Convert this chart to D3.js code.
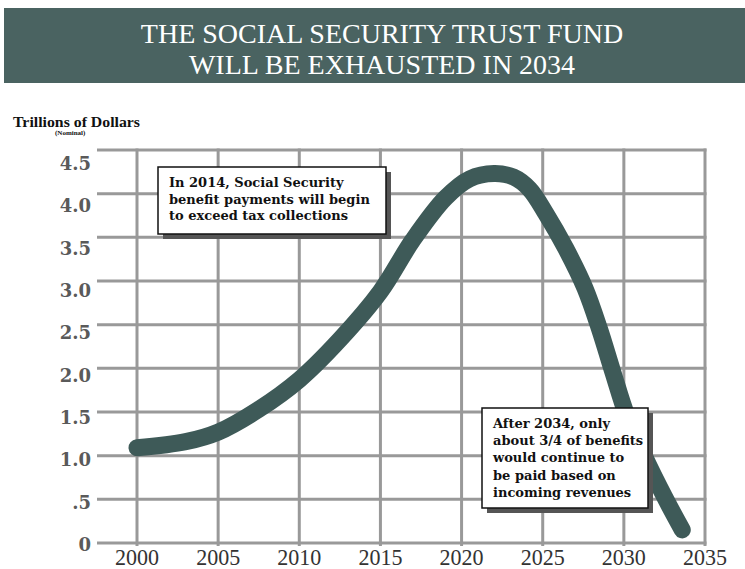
<!DOCTYPE html>
<html>
<head>
<meta charset="utf-8">
<script src="https://cdn.jsdelivr.net/npm/d3@7"></script>
<style>
  body { margin: 0; background: #fff; }
  svg { display: block; }
</style>
</head>
<body>
<svg id="chart" width="745" height="569"></svg>
<script>
// Data ---------------------------------------------------------------------------

var years = [2000, 2003, 2005, 2007.5, 2010, 2012.5, 2015, 2017, 2019, 2020.5, 2022, 2023.2, 2024.2, 2025.2, 2026.4, 2027.6, 2028.5, 2029.3, 2030.2, 2031.3, 2032.5, 2033.6];
var fund = [1.09, 1.16, 1.27, 1.53, 1.87, 2.33, 2.88, 3.47, 3.95, 4.17, 4.23, 4.19, 4.05, 3.77, 3.38, 2.92, 2.45, 1.97, 1.45, 0.98, 0.53, 0.15];

var xTicks = [2000, 2005, 2010, 2015, 2020, 2025, 2030, 2035];
var yTicks = [0, 0.5, 1.0, 1.5, 2.0, 2.5, 3.0, 3.5, 4.0, 4.5];
var yTickLabels = ["0", ".5", "1.0", "1.5", "2.0", "2.5", "3.0", "3.5", "4.0", "4.5"];

var titleLines = ["THE SOCIAL SECURITY TRUST FUND", "WILL BE EXHAUSTED IN 2034"];
var note1 = ["In 2014, Social Security", "benefit payments will begin", "to exceed tax collections"];
var note2 = ["After 2034, only", "about 3/4 of benefits", "would continue to", "be paid based on", "incoming revenues"];

// Setup --------------------------------------------------------------------------

var svg = d3.select("#chart");
var serif = "'Liberation Serif', 'Times New Roman', serif";
var slab = "'DejaVu Serif', serif";

var x = d3.scaleLinear().domain([2000, 2035]).range([137, 705]);
var y = d3.scaleLinear().domain([0, 4.5]).range([543, 150]);
// tick labels sit a little lower than their grid lines near the top
var yLab = d3.scaleLinear().domain([0, 4.5]).range([551, 170]);

// Title banner
svg.append("rect")
    .attr("x", 4).attr("y", 8)
    .attr("width", 741).attr("height", 75)
    .attr("fill", "#4a6361");

svg.selectAll(".title")
    .data(titleLines)
    .enter()
    .append("text")
    .attr("class", "title")
    .attr("x", 382)
    .attr("y", function (d, i) { return 43 + i * 31; })
    .attr("text-anchor", "middle")
    .attr("font-family", serif)
    .attr("font-size", 28)
    .attr("fill", "#fff")
    .text(function (d) { return d; });

// Axis title
svg.append("text")
    .attr("x", 13).attr("y", 127)
    .attr("font-family", serif)
    .attr("font-weight", "bold")
    .attr("font-size", 15)
    .attr("textLength", 127)
    .attr("lengthAdjust", "spacingAndGlyphs")
    .attr("fill", "#111")
    .text("Trillions of Dollars");

svg.append("text")
    .attr("x", 55).attr("y", 135)
    .attr("font-family", serif)
    .attr("font-weight", "bold")
    .attr("font-size", 7)
    .attr("fill", "#111")
    .text("(Nominal)");

// Grid ---------------------------------------------------------------------------

var grid = svg.append("g").attr("stroke", "#999").attr("stroke-width", 3);

grid.selectAll(".hline")
    .data(yTicks)
    .enter()
    .append("line")
    .attr("x1", 97).attr("x2", x(2035) + 1.5)
    .attr("y1", function (d) { return y(d); })
    .attr("y2", function (d) { return y(d); });

grid.selectAll(".vline")
    .data(xTicks)
    .enter()
    .append("line")
    .attr("x1", function (d) { return x(d); })
    .attr("x2", function (d) { return x(d); })
    .attr("y1", y(4.5) - 1.5)
    .attr("y2", y(0) + 3);

// Tick labels
svg.selectAll(".ylab")
    .data(yTicks)
    .enter()
    .append("text")
    .attr("x", 91)
    .attr("y", function (d) { return yLab(d); })
    .attr("text-anchor", "end")
    .attr("font-family", slab)
    .attr("font-weight", "bold")
    .attr("font-size", 18)
    .attr("fill", "#5a5a5a")
    .text(function (d, i) { return yTickLabels[i]; });

svg.selectAll(".xlab")
    .data(xTicks)
    .enter()
    .append("text")
    .attr("x", function (d) { return x(d); })
    .attr("y", 565)
    .attr("text-anchor", "middle")
    .attr("font-family", serif)
    .attr("font-size", 24)
    .attr("textLength", 44)
    .attr("lengthAdjust", "spacingAndGlyphs")
    .attr("fill", "#333")
    .text(function (d) { return d; });

// Curve --------------------------------------------------------------------------

var points = years.map(function (d, i) { return [d, fund[i]]; });

var line = d3.line()
    .x(function (d) { return x(d[0]); })
    .y(function (d) { return y(d[1]); })
    .curve(d3.curveCatmullRom.alpha(0.5));

svg.append("path")
    .datum(points)
    .attr("d", line)
    .attr("fill", "none")
    .attr("stroke", "#3e5a58")
    .attr("stroke-width", 17)
    .attr("stroke-linecap", "round")
    .attr("stroke-linejoin", "round");

// Notes --------------------------------------------------------------------------

function noteBox(left, top, w, h, lines, lineGap) {
    svg.append("rect")
        .attr("x", left + 5).attr("y", top + 5)
        .attr("width", w).attr("height", h)
        .attr("fill", "#555");
    svg.append("rect")
        .attr("x", left).attr("y", top)
        .attr("width", w).attr("height", h)
        .attr("fill", "#fff")
        .attr("stroke", "#111")
        .attr("stroke-width", 1.5);
    svg.selectAll(null)
        .data(lines)
        .enter()
        .append("text")
        .attr("x", left + 11)
        .attr("y", function (d, i) { return top + 20 + i * lineGap; })
        .attr("font-family", slab)
        .attr("font-weight", "bold")
        .attr("font-size", 13)
        .attr("fill", "#111")
        .text(function (d) { return d; });
}

noteBox(158, 167, 228, 67, note1, 16.5);
noteBox(482, 408, 166, 100, note2, 17.2);
</script>
</body>
</html>
